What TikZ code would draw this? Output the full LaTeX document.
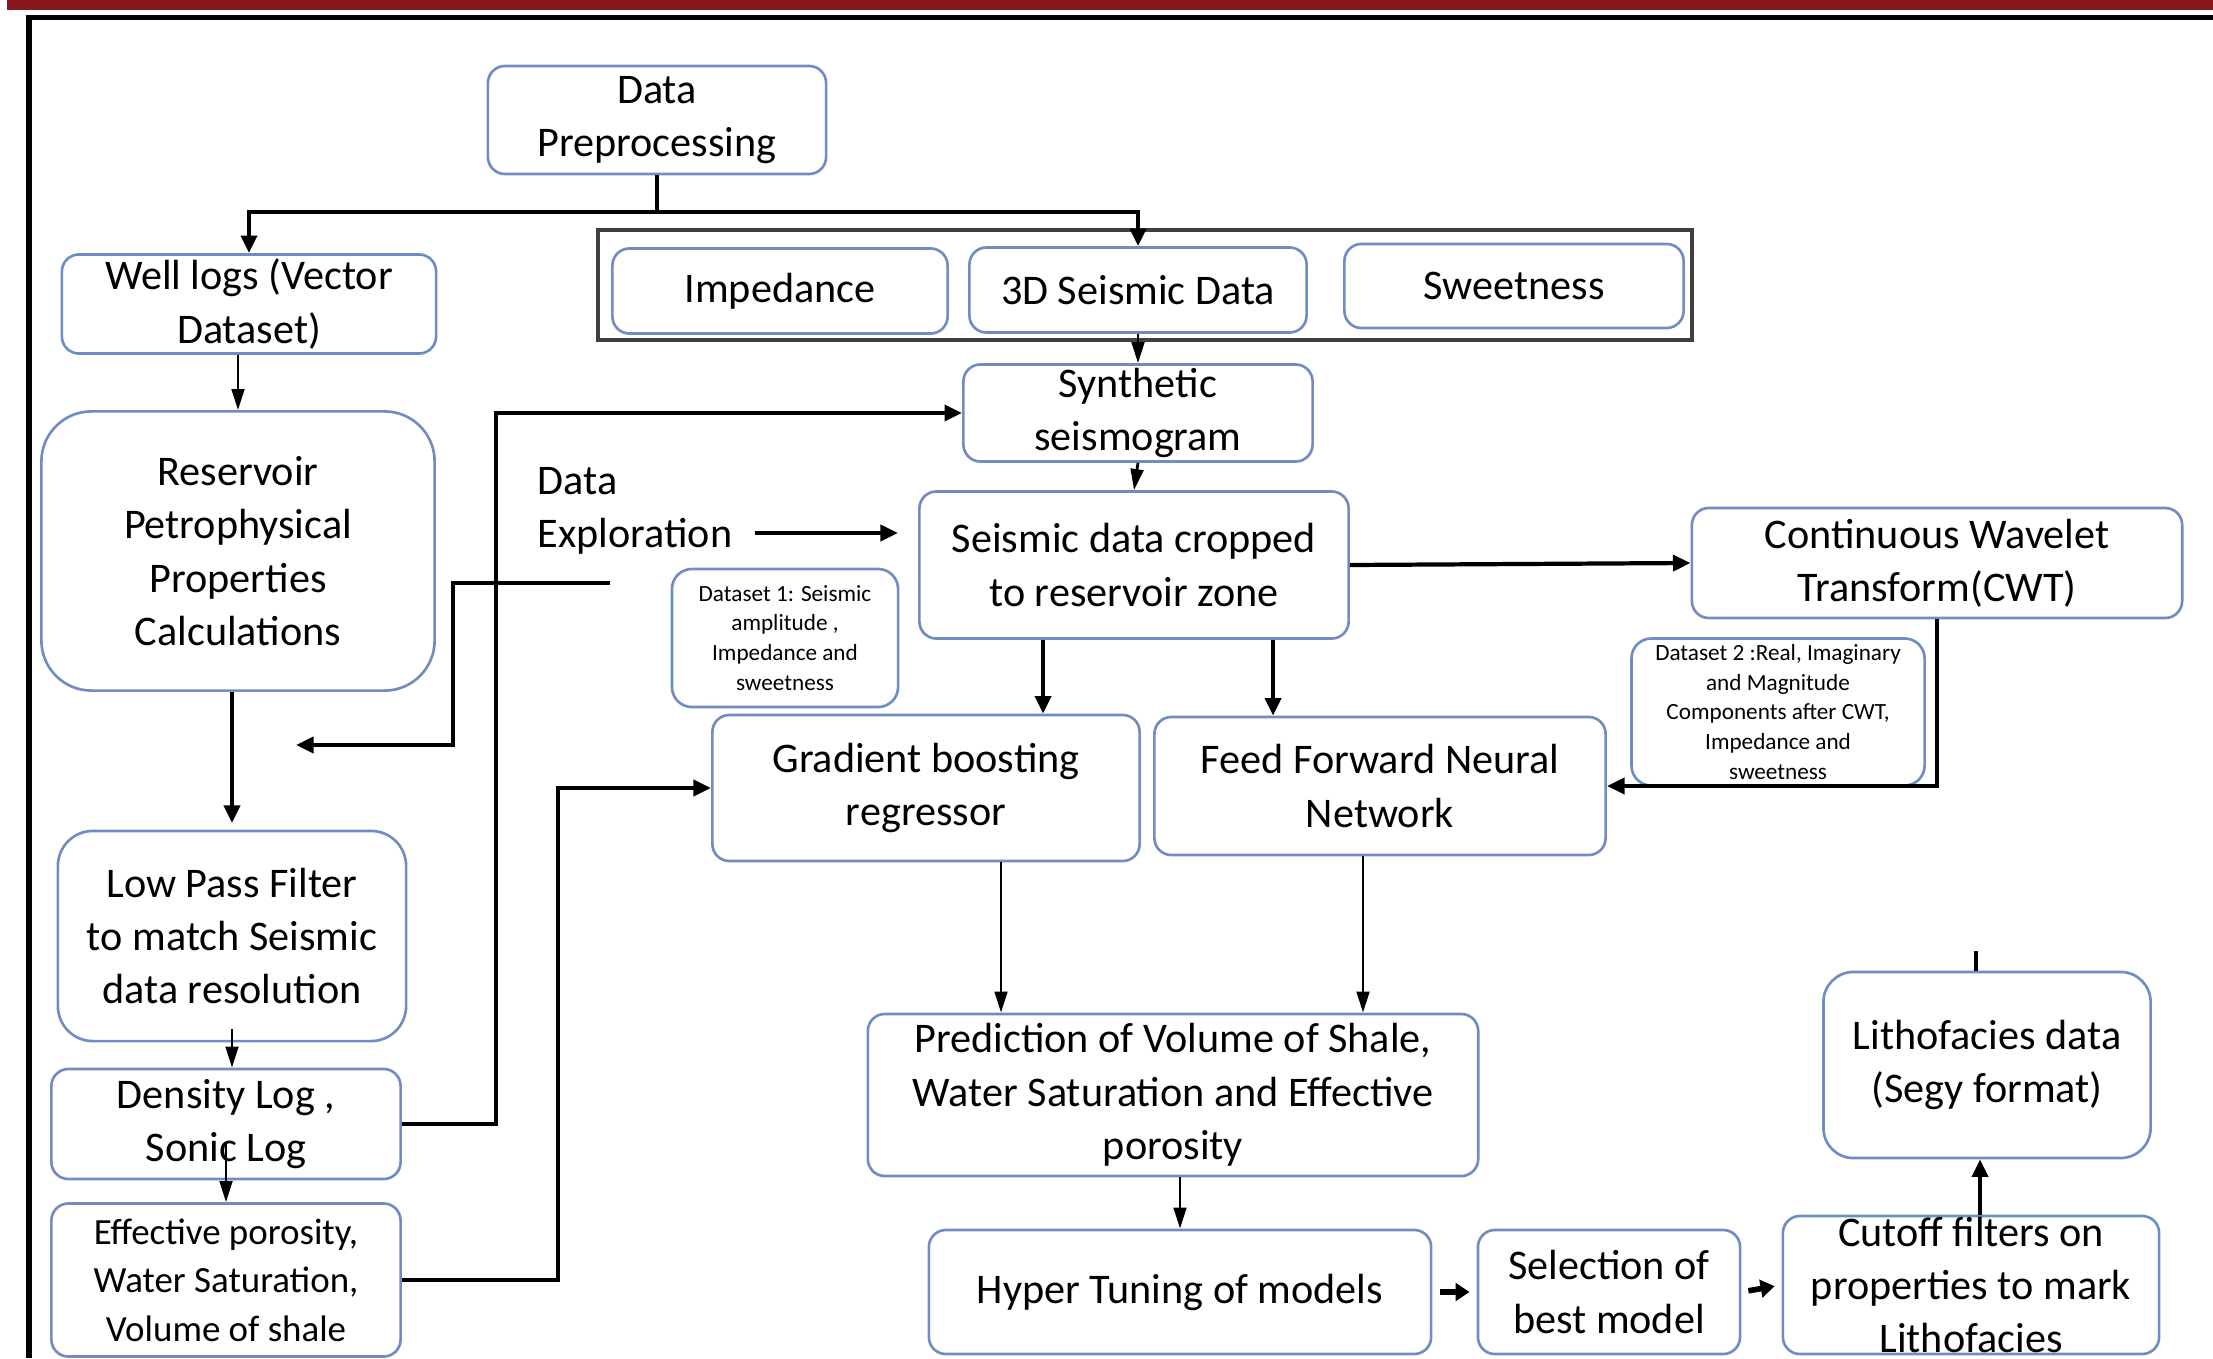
\documentclass[tikz,border=0pt]{standalone}
\usepackage{fontspec}
\setmainfont{Carlito}
\usetikzlibrary{arrows.meta}

\definecolor{boxblue}{RGB}{112,140,195}
\definecolor{barred}{RGB}{132,24,28}
\newcommand{\mainfs}{\fontsize{12}{15.2}\selectfont}
\newcommand{\midfs}{\fontsize{10.5}{13.8}\selectfont}
\newcommand{\smallfs}{\fontsize{6.6}{8.5}\selectfont}

\begin{document}
\begin{tikzpicture}[
  x=0.01cm, y=-0.01cm,
  box/.style={draw=boxblue, line width=0.75pt, rounded corners=0.17cm, align=center, inner sep=0pt, font=\mainfs},
  note/.style={box, font=\smallfs, rounded corners=0.2cm},
  flow/.style={line width=1.2pt, -{Triangle[length=5pt,width=4.5pt]}},
  arr/.style={line width=0.8pt, -{Triangle[length=6pt,width=3.6pt]}},
  stub/.style={line width=1.6pt, -{Triangle[length=4pt,width=5pt]}},
  link/.style={line width=1.2pt}
  ]
  \clip (0,0) rectangle (2213,1358);
  % page frame
  \fill[barred] (7,0) rectangle (2213,10);
  \draw[line width=1.6pt] (29,1358) -- (29,17.5) -- (2213,17.5);

  % boxes
  \node[box, minimum width=3.38cm, minimum height=1.08cm] (prep) at (657,120) {Data\\Preprocessing};
  \node[box, minimum width=3.74cm, minimum height=0.99cm] (welllogs) at (249,304) {Well logs (Vector\\Dataset)};
  \draw[black!75, line width=1pt] (598,230) rectangle (1692,340);
  \node[box, minimum width=3.35cm, minimum height=0.85cm] (imped) at (780,291) {Impedance};
  \node[box, minimum width=3.37cm, minimum height=0.85cm] (seis3d) at (1138,290) {3D Seismic Data};
  \node[box, minimum width=3.39cm, minimum height=0.84cm] (sweet) at (1514,286) {Sweetness};
  \node[box, rounded corners=0.5cm, minimum width=3.93cm, minimum height=2.79cm] (reservoir) at (238,551) {Reservoir\\Petrophysical\\Properties\\Calculations};
  \node[box, rounded corners=0.35cm, minimum width=3.48cm, minimum height=2.10cm] (lowpass) at (232,936) {Low Pass Filter\\to match Seismic\\data resolution};
  \node[box, minimum width=3.49cm, minimum height=1.10cm] (density) at (226,1124) {Density Log ,\\Sonic Log};
  \node[box, font=\midfs, minimum width=3.49cm, minimum height=1.53cm] (effective) at (226,1280) {Effective porosity,\\Water Saturation,\\Volume of shale};
  \node[box, minimum width=3.49cm, minimum height=0.97cm] (synth) at (1138,413) {Synthetic\\seismogram};
  \node[box, minimum width=4.29cm, minimum height=1.47cm] (cropped) at (1134,565) {Seismic data cropped\\to reservoir zone};
  \node[anchor=west, align=left, inner sep=0pt, font=\mainfs] (explore) at (537,511) {Data\\Exploration};
  \node[note, minimum width=2.26cm, minimum height=1.38cm] (dsone) at (785,638) {Dataset 1: Seismic\\amplitude ,\\Impedance and\\sweetness};
  \node[box, minimum width=4.90cm, minimum height=1.10cm] (cwt) at (1937,563) {Continuous Wavelet\\Transform(CWT)};
  \node[note, minimum width=2.93cm, minimum height=1.47cm] (dstwo) at (1778,712) {Dataset 2 :Real, Imaginary\\and Magnitude\\Components after CWT,\\Impedance and\\sweetness};
  \node[box, minimum width=4.27cm, minimum height=1.46cm] (gbr) at (926,788) {Gradient boosting\\regressor};
  \node[box, minimum width=4.51cm, minimum height=1.38cm] (ffnn) at (1380,786) {Feed Forward Neural\\Network};
  \node[box, minimum width=6.10cm, minimum height=1.62cm] (pred) at (1173,1095) {Prediction of Volume of Shale,\\Water Saturation and Effective\\porosity};
  \node[box, minimum width=5.02cm, minimum height=1.24cm] (hyper) at (1180,1292) {Hyper Tuning of models};
  \node[box, minimum width=2.62cm, minimum height=1.24cm] (bestmodel) at (1609,1292) {Selection of\\best model};
  \node[box, minimum width=3.76cm, minimum height=1.38cm] (cutoff) at (1971,1285) {Cutoff filters on\\properties to mark\\Lithofacies};
  \node[box, rounded corners=0.3cm, minimum width=3.27cm, minimum height=1.86cm] (litho) at (1987,1065) {Lithofacies data\\(Segy format)};

  % loose ends
  \coordinate (fork) at (657,212);
  \coordinate (explorestart) at (755,533);
  \coordinate (exploreend) at (898,533);
  \coordinate (looseA) at (610,583);
  \coordinate (looseB) at (296,745);

  % connectors
  \draw[link] (prep.south) -- (fork);
  \draw[flow] (fork) -| (welllogs.north);
  \draw[flow] (fork) -| (seis3d.north);
  \draw[arr] (reservoir.north |- welllogs.south) -- (reservoir.north);
  \draw[flow] (lowpass.north |- reservoir.south) -- (lowpass.north |- 0,823);
  \draw[arr] ([yshift=0.13cm]lowpass.south) -- (lowpass.south |- density.north);
  \draw[arr] ([yshift=0.38cm]density.south) -- (effective.north);
  \draw[flow] (density.east) -- ++(94,0) |- (synth.west);
  \draw[flow] (explorestart) -- (exploreend);
  \draw[flow] (looseA) -- (453,583) |- (looseB);
  \draw[arr] (seis3d.south) -- (synth.north);
  \draw[arr] (synth.south) -- (cropped.north);
  \draw[flow] (cropped.east) -- (cwt.west);
  \draw[flow] (cwt.south) |- (ffnn.east);
  \draw[flow] (cropped.south -| 1043,0) -- (gbr.north -| 1043,0);
  \draw[flow] (cropped.south -| 1273,0) -- (ffnn.north -| 1273,0);
  \draw[flow] (effective.east) -- ++(156,0) |- (gbr.west);
  \draw[arr] (gbr.south -| 1001,0) -- (pred.north -| 1001,0);
  \draw[arr] (ffnn.south -| 1363,0) -- (pred.north -| 1363,0);
  \draw[arr] (hyper.north |- pred.south) -- (hyper.north);
  \draw[stub, shorten <=2pt, shorten >=2pt] (hyper.east) -- (bestmodel.west);
  \draw[stub, shorten <=2pt, shorten >=2pt] (bestmodel.east) -- (cutoff.west);
  \draw[flow] (cutoff.north -| 1980,0) -- (litho.south -| 1980,0);
  \draw[link] (litho.north -| 1976,0) -- ++(0,-20);
\end{tikzpicture}
\end{document}
